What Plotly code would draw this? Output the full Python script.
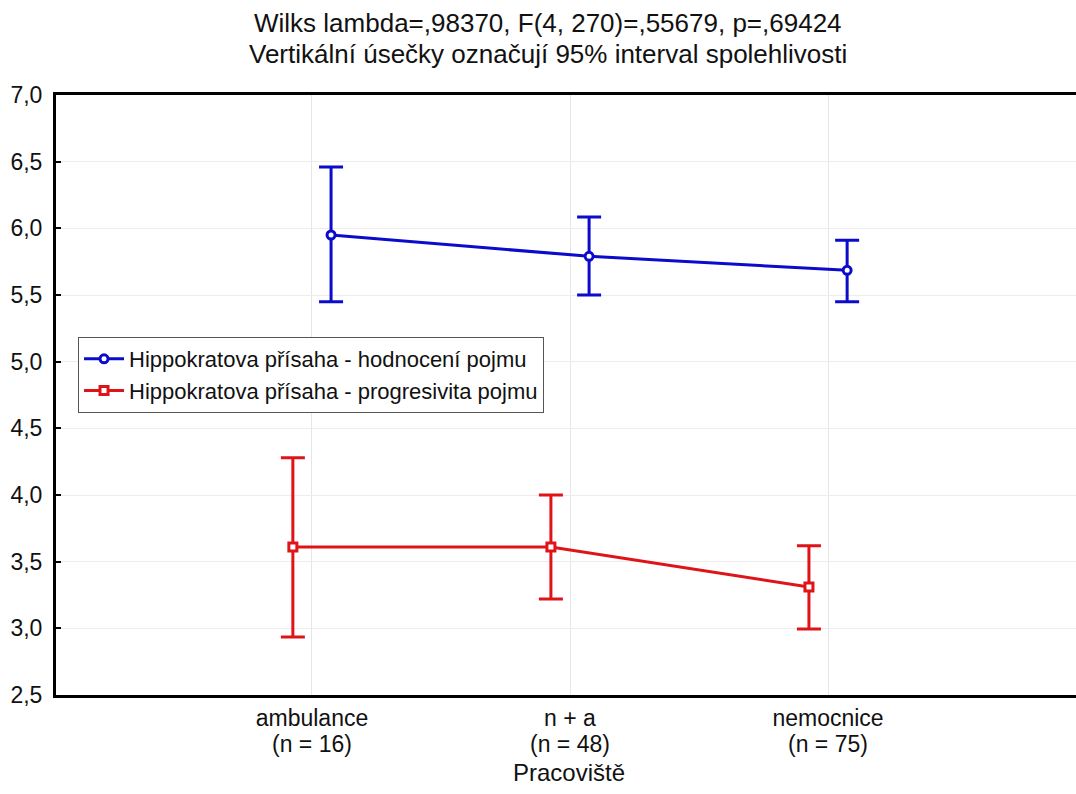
import plotly.graph_objects as go

# Workplace categories and group sizes
categories = ["ambulance", "n + a", "nemocnice"]
group_sizes = [16, 48, 75]

# Series 1: evaluation of the concept (mean and 95% CI)
hodnoceni_mean = [5.95, 5.79, 5.685]
hodnoceni_low = [5.45, 5.50, 5.45]
hodnoceni_high = [6.46, 6.085, 5.91]

# Series 2: progressiveness of the concept (mean and 95% CI)
progresivita_mean = [3.61, 3.61, 3.31]
progresivita_low = [2.935, 3.22, 2.995]
progresivita_high = [4.28, 4.00, 3.62]

y_ticks = [2.5, 3.0, 3.5, 4.0, 4.5, 5.0, 5.5, 6.0, 6.5, 7.0]

title_lines = [
    "Wilks lambda=,98370, F(4, 270)=,55679, p=,69424",
    "Vertikální úsečky označují 95% interval spolehlivosti",
]
x_title = "Pracoviště"

BLUE = "#0b0bcc"
RED = "#df1419"
DODGE = 0.074
FONT = "Liberation Sans, Arial, sans-serif"

idx = list(range(len(categories)))

# plot area in pixels: top 95, bottom 695 (height 600)
def py(pixel):
    return (695 - pixel) / 600


def series(name, mean, low, high, color, symbol, shift):
    return go.Scatter(
        x=[i + shift for i in idx],
        y=mean,
        name=name,
        mode="lines+markers",
        line=dict(color=color, width=3),
        marker=dict(symbol=symbol, size=8, color="white",
                    line=dict(color=color, width=3)),
        error_y=dict(
            type="data",
            symmetric=False,
            array=[h - m for h, m in zip(high, mean)],
            arrayminus=[m - l for m, l in zip(mean, low)],
            color=color,
            thickness=3,
            width=12,
        ),
    )


fig = go.Figure()
fig.add_trace(series("Hippokratova přísaha - hodnocení pojmu",
                     hodnoceni_mean, hodnoceni_low, hodnoceni_high,
                     BLUE, "circle", DODGE))
fig.add_trace(series("Hippokratova přísaha - progresivita pojmu",
                     progresivita_mean, progresivita_low, progresivita_high,
                     RED, "square", -DODGE))

annotations = []
# two-line heading
for line, pix in zip(title_lines, [23, 54]):
    annotations.append(dict(
        text=line, xref="paper", yref="paper", x=0.482, y=py(pix),
        xanchor="center", yanchor="middle", showarrow=False,
        font=dict(size=26, family=FONT, color="#111"),
    ))
# group sizes under each category label
for i, n in zip(idx, group_sizes):
    annotations.append(dict(
        text=f"(n = {n})", xref="x", yref="paper", x=i, y=py(744),
        xanchor="center", yanchor="middle", showarrow=False,
        font=dict(size=23, family=FONT, color="#111"),
    ))
# x-axis title
annotations.append(dict(
    text=x_title, xref="paper", yref="paper", x=0.503, y=py(773),
    xanchor="center", yanchor="middle", showarrow=False,
    font=dict(size=24, family=FONT, color="#111"),
))

fig.update_layout(
    width=1076,
    height=794,
    paper_bgcolor="white",
    plot_bgcolor="white",
    separators=", ",
    font=dict(family=FONT, size=21, color="#111"),
    margin=dict(l=56, r=0, t=95, b=99),
    annotations=annotations,
    legend=dict(
        x=0.0216,
        y=py(337),
        xanchor="left",
        yanchor="top",
        bgcolor="white",
        bordercolor="#555",
        borderwidth=1,
        font=dict(size=22),
        tracegroupgap=0,
        itemwidth=40,
    ),
    showlegend=True,
)

fig.update_xaxes(
    range=[-0.992, 2.961],
    tickmode="array",
    tickvals=idx,
    ticktext=categories,
    ticklabelstandoff=0,
    showgrid=True,
    gridcolor="#e6e6e6",
    gridwidth=1,
    showline=True,
    linecolor="black",
    linewidth=3,
    mirror=True,
    ticks="",
    zeroline=False,
    tickfont=dict(size=23),
)

fig.update_yaxes(
    range=[2.5, 7.0],
    tickmode="array",
    tickvals=y_ticks,
    tickformat=".1f",
    showgrid=True,
    gridcolor="#ececec",
    gridwidth=1,
    showline=True,
    linecolor="black",
    linewidth=3,
    ticks="inside",
    ticklen=5,
    tickwidth=2,
    tickcolor="black",
    ticklabelstandoff=6,
    zeroline=False,
    tickfont=dict(size=23),
)

fig.write_html("out.html")
